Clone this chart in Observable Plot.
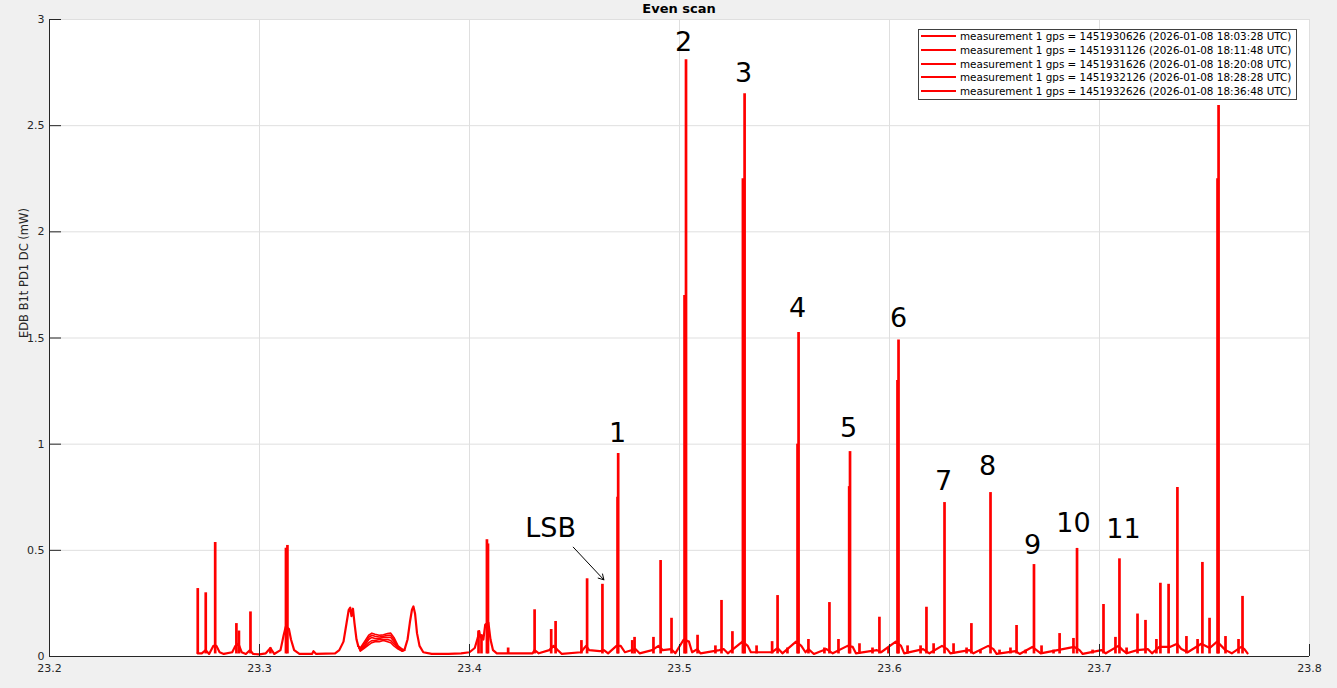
<!DOCTYPE html>
<html><head><meta charset="utf-8">
<script src="https://cdn.jsdelivr.net/npm/d3@7"></script>
<script src="https://cdn.jsdelivr.net/npm/@observablehq/plot@0.6"></script>
<style>
body{margin:0;background:#f0f0f0;}
#fig{position:relative;width:1337px;height:688px;background:#f0f0f0;font-family:"DejaVu Sans",sans-serif;overflow:hidden}
#title{position:absolute;left:679px;top:1px;transform:translateX(-50%);font-weight:bold;font-size:13px;line-height:15px;color:#000;white-space:nowrap}
#chart{position:absolute;left:0;top:16px}
#legend{position:absolute;left:918px;top:29px;width:377px;height:69px;border:1px solid #404040;background:#fff}
.row{position:absolute;left:2px;height:14px;display:flex;align-items:center;font-size:10.4px;color:#000;white-space:nowrap}
.swatch{width:35px;height:2px;background:#ff0000;margin-right:4px}
</style>
</head>
<body>
<div id="fig">
  <div id="title"></div>
  <div id="chart"></div>
  <div id="legend"></div>
</div>
<script>
// ---------- data ----------
const titleText = "Even scan";
const yLabel = "EDB B1t PD1 DC (mW)";
const xTicks = [23.2, 23.3, 23.4, 23.5, 23.6, 23.7, 23.8];
const yTicks = [0, 0.5, 1, 1.5, 2, 2.5, 3];

const gpsTimes = [1451930626, 1451931126, 1451931626, 1451932126, 1451932626];
const utcTimes = ["2026-01-08 18:03:28 UTC", "2026-01-08 18:11:48 UTC", "2026-01-08 18:20:08 UTC",
                  "2026-01-08 18:28:28 UTC", "2026-01-08 18:36:48 UTC"];

// narrow resonance spikes: frequency and peak power
const peakX = [23.2706, 23.2744, 23.2789, 23.2890, 23.2902, 23.2957, 23.3052, 23.3126, 23.3133,
  23.4043, 23.4057, 23.4083, 23.4088, 23.4184, 23.4310, 23.4389, 23.4410, 23.4533, 23.4560, 23.4633,
  23.4708, 23.4705, 23.4775, 23.4786, 23.4876, 23.4910, 23.4962, 23.5031, 23.5024, 23.5086, 23.5171,
  23.5200, 23.5252, 23.5310, 23.5302, 23.5367, 23.5441, 23.5467, 23.5514, 23.5567, 23.5562, 23.5614,
  23.5690, 23.5714, 23.5757, 23.5812, 23.5808, 23.5857, 23.5919, 23.5952, 23.5995, 23.6043, 23.6038,
  23.6086, 23.6148, 23.6176, 23.6210, 23.6262, 23.6305, 23.6367, 23.6390, 23.6433, 23.6481, 23.6524,
  23.6576, 23.6605, 23.6648, 23.6688, 23.6724, 23.6781, 23.6810, 23.6876, 23.6893, 23.6967, 23.7019,
  23.7076, 23.7095, 23.7129, 23.7181, 23.7219, 23.7271, 23.7290, 23.7329, 23.7371, 23.7414, 23.7467,
  23.7490, 23.7524, 23.7567, 23.7562, 23.7600, 23.7662, 23.7681];
const peakY = [0.32, 0.30, 0.537, 0.155, 0.12, 0.21, 0.04, 0.51, 0.523,
  0.12, 0.10, 0.55, 0.53, 0.04, 0.22, 0.127, 0.165, 0.075, 0.366, 0.34,
  0.956, 0.75, 0.075, 0.09, 0.09, 0.452, 0.18, 2.81, 1.70, 0.10, 0.05,
  0.264, 0.117, 2.65, 2.25, 0.05, 0.07, 0.287, 0.04, 1.526, 1.0, 0.08,
  0.04, 0.254, 0.08, 0.965, 0.8, 0.06, 0.04, 0.185, 0.04, 1.49, 1.3,
  0.05, 0.05, 0.232, 0.06, 0.725, 0.06, 0.04, 0.155, 0.03, 0.772, 0.03,
  0.04, 0.146, 0.03, 0.433, 0.05, 0.03, 0.108, 0.085, 0.509, 0.03, 0.245,
  0.09, 0.46, 0.04, 0.20, 0.17, 0.08, 0.345, 0.34, 0.796, 0.094, 0.08,
  0.443, 0.18, 2.595, 2.25, 0.094, 0.08, 0.283];

// baseline trace and broad features (null = gap filled by the per-measurement hump below)
const traceX = [23.2705, 23.2725, 23.2744, 23.2760, 23.2780, 23.2795, 23.2810, 23.2830, 23.2870, 23.2885,
  23.2900, 23.2915, 23.2935, 23.2955, 23.2970, 23.3000, 23.3030, 23.3052, 23.3070, 23.3100, 23.3115,
  23.3125, 23.3140, 23.3150, 23.3165, 23.3190, 23.3250, 23.3257, 23.3270, 23.3360, 23.3380, 23.3400,
  23.3415, 23.3425, 23.3432, 23.3438, 23.3445, 23.3452, 23.3462, 23.3470, null,
  23.3690, 23.3705, 23.3716, 23.3726, 23.3733, 23.3741, 23.3750, 23.3762, 23.3780, 23.3820, 23.3900,
  23.3960, 23.4000, 23.4025, 23.4040, 23.4046, 23.4052, 23.4058, 23.4066, 23.4075, 23.4090, 23.4100,
  23.4112, 23.4130, 23.4300, 23.4310, 23.4330, 23.4380, 23.4400, 23.4420, 23.4440, 23.4530, 23.4555,
  23.4570, 23.4620, 23.4640, 23.4660, 23.4700, 23.4720, 23.4740, 23.4790, 23.4810, 23.4870, 23.4900,
  23.4920, 23.4960, 23.4980, 23.5020, 23.5045, 23.5060, 23.5085, 23.5100, 23.5190, 23.5210, 23.5230,
  23.5300, 23.5325, 23.5340, 23.5440, 23.5467, 23.5490, 23.5555, 23.5580, 23.5600, 23.5614, 23.5640,
  23.5700, 23.5730, 23.5800, 23.5825, 23.5840, 23.5940, 23.5960, 23.6030, 23.6055, 23.6070, 23.6160,
  23.6190, 23.6250, 23.6275, 23.6290, 23.6380, 23.6400, 23.6470, 23.6495, 23.6510, 23.6600, 23.6620,
  23.6680, 23.6700, 23.6720, 23.6880, 23.6905, 23.6920, 23.7010, 23.7030, 23.7090, 23.7110, 23.7130,
  23.7180, 23.7230, 23.7250, 23.7285, 23.7335, 23.7370, 23.7390, 23.7420, 23.7485, 23.7525, 23.7560,
  23.7580, 23.7600, 23.7630, 23.7675, 23.7690, 23.7705];
const traceY = [0.015, 0.015, 0.03, 0.012, 0.05, 0.05, 0.02, 0.012, 0.02, 0.05,
  0.06, 0.02, 0.012, 0.03, 0.012, 0.01, 0.015, 0.04, 0.012, 0.03, 0.10,
  0.14, 0.13, 0.08, 0.03, 0.012, 0.012, 0.025, 0.012, 0.015, 0.03, 0.07,
  0.16, 0.22, 0.23, 0.19, 0.225, 0.16, 0.08, 0.05, null,
  0.03, 0.08, 0.16, 0.22, 0.236, 0.20, 0.11, 0.05, 0.02, 0.012, 0.012,
  0.015, 0.02, 0.04, 0.09, 0.12, 0.09, 0.10, 0.08, 0.15, 0.16, 0.08,
  0.03, 0.015, 0.015, 0.03, 0.015, 0.03, 0.05, 0.03, 0.012, 0.02, 0.05,
  0.03, 0.025, 0.03, 0.015, 0.05, 0.05, 0.02, 0.035, 0.015, 0.03, 0.05,
  0.03, 0.035, 0.015, 0.08, 0.07, 0.02, 0.035, 0.015, 0.03, 0.035, 0.015,
  0.07, 0.05, 0.02, 0.02, 0.04, 0.015, 0.07, 0.05, 0.02, 0.035, 0.012,
  0.035, 0.015, 0.05, 0.045, 0.015, 0.03, 0.02, 0.07, 0.05, 0.015, 0.035,
  0.015, 0.05, 0.035, 0.015, 0.03, 0.015, 0.05, 0.035, 0.012, 0.025, 0.012,
  0.045, 0.03, 0.015, 0.045, 0.03, 0.012, 0.03, 0.015, 0.05, 0.03, 0.015,
  0.03, 0.035, 0.015, 0.045, 0.045, 0.06, 0.035, 0.02, 0.06, 0.04, 0.07,
  0.05, 0.03, 0.015, 0.045, 0.035, 0.015];

// broad double hump near 23.355, one curve per measurement
const humpX = [23.3470, 23.3480, 23.3500, 23.3520, 23.3535, 23.3550, 23.3570, 23.3590, 23.3610,
  23.3625, 23.3640, 23.3660, 23.3680, 23.3690];
const humpY = [
  [0.05, 0.04, 0.07, 0.10, 0.11, 0.105, 0.100, 0.102, 0.108, 0.11, 0.09, 0.05, 0.035, 0.03],
  [0.05, 0.035, 0.06, 0.09, 0.10, 0.095, 0.092, 0.095, 0.100, 0.10, 0.08, 0.045, 0.03, 0.03],
  [0.05, 0.03, 0.05, 0.08, 0.09, 0.085, 0.085, 0.09, 0.09, 0.09, 0.07, 0.04, 0.03, 0.03],
  [0.05, 0.03, 0.045, 0.065, 0.075, 0.075, 0.08, 0.08, 0.08, 0.075, 0.06, 0.04, 0.025, 0.03],
  [0.05, 0.025, 0.04, 0.055, 0.065, 0.07, 0.07, 0.075, 0.07, 0.065, 0.05, 0.035, 0.025, 0.03]
];

// annotations
const annoText = ["1", "2", "3", "4", "5", "6", "7", "8", "9", "10", "11", "LSB"];
const annoX = [23.4705, 23.5019, 23.5305, 23.5562, 23.5805, 23.6043, 23.6257, 23.6467, 23.6681, 23.6876, 23.7114, 23.4386];
const annoY = [1.050, 2.892, 2.746, 1.639, 1.074, 1.592, 0.824, 0.895, 0.523, 0.626, 0.600, 0.605];
const arrowFrom = [23.4494, 0.515];
const arrowTo = [23.4640, 0.361];

// ---------- build ----------
const red = "#ff0000", axisColor = "#262626", gridColor = "#dfdfdf";
const W = 1337, H = 672, mT = 3, mB = 32, mL = 49, mR = 28;
const plotH = H - mT - mB, plotW = W - mL - mR, tickLen = 12;

const peakRows = peakX.map((x, i) => ({x, y: peakY[i]}));
const traceRows = traceX.map((x, i) => ({x, y: traceY[i]}));
const humpRows = humpY.flatMap((ys, k) => ys.map((y, i) => ({x: humpX[i], y, k})));

document.getElementById("title").textContent = titleText;

const chart = Plot.plot({
  width: W, height: H,
  marginTop: mT, marginBottom: mB, marginLeft: mL, marginRight: mR,
  style: {background: "#f0f0f0", fontFamily: "DejaVu Sans", fontSize: "11px", color: axisColor, overflow: "visible"},
  x: {domain: [23.2, 23.8]},
  y: {domain: [0, 3]},
  marks: [
    Plot.frame({fill: "white", stroke: "none"}),
    Plot.ruleX(xTicks, {stroke: gridColor}),
    Plot.ruleY(yTicks, {stroke: gridColor}),
    Plot.line(traceRows, {x: "x", y: "y", stroke: red, strokeWidth: 2.2}),
    Plot.line(humpRows, {x: "x", y: "y", z: "k", stroke: red, strokeWidth: 1.6}),
    Plot.ruleX(peakRows, {x: "x", y1: 0.012, y2: "y", stroke: red, strokeWidth: 2.7}),
    Plot.ruleX([23.2], {stroke: axisColor}),
    Plot.ruleY([0], {stroke: axisColor}),
    Plot.tickX(xTicks, {x: d => d, insetTop: plotH - tickLen, stroke: axisColor}),
    Plot.tickY(yTicks, {y: d => d, insetRight: plotW - tickLen, stroke: axisColor}),
    Plot.axisX(xTicks, {tickSize: 0, tickPadding: 8, tickFormat: d3.format(".1f"), label: null}),
    Plot.axisY(yTicks, {tickSize: 0, tickPadding: 5, tickFormat: d => String(d), label: null}),
    Plot.text([yLabel], {text: d => d, frameAnchor: "left", dx: -25, rotate: -90, fill: axisColor, fontSize: 11.5}),
    Plot.text(annoText, {x: (d, i) => annoX[i], y: (d, i) => annoY[i], text: d => d, fontSize: 27, fill: "#000"}),
    Plot.arrow([0], {x1: () => arrowFrom[0], y1: () => arrowFrom[1], x2: () => arrowTo[0], y2: () => arrowTo[1],
      stroke: "#000", strokeWidth: 1, headLength: 9})
  ]
});
document.getElementById("chart").appendChild(chart);

const legend = document.getElementById("legend");
gpsTimes.forEach((g, i) => {
  const row = document.createElement("div");
  row.className = "row";
  row.style.top = (-1 + 13.75 * i) + "px";
  const sw = document.createElement("div");
  sw.className = "swatch";
  const tx = document.createElement("span");
  tx.textContent = `measurement 1 gps = ${g} (${utcTimes[i]})`;
  row.appendChild(sw); row.appendChild(tx);
  legend.appendChild(row);
});
</script>
</body></html>
